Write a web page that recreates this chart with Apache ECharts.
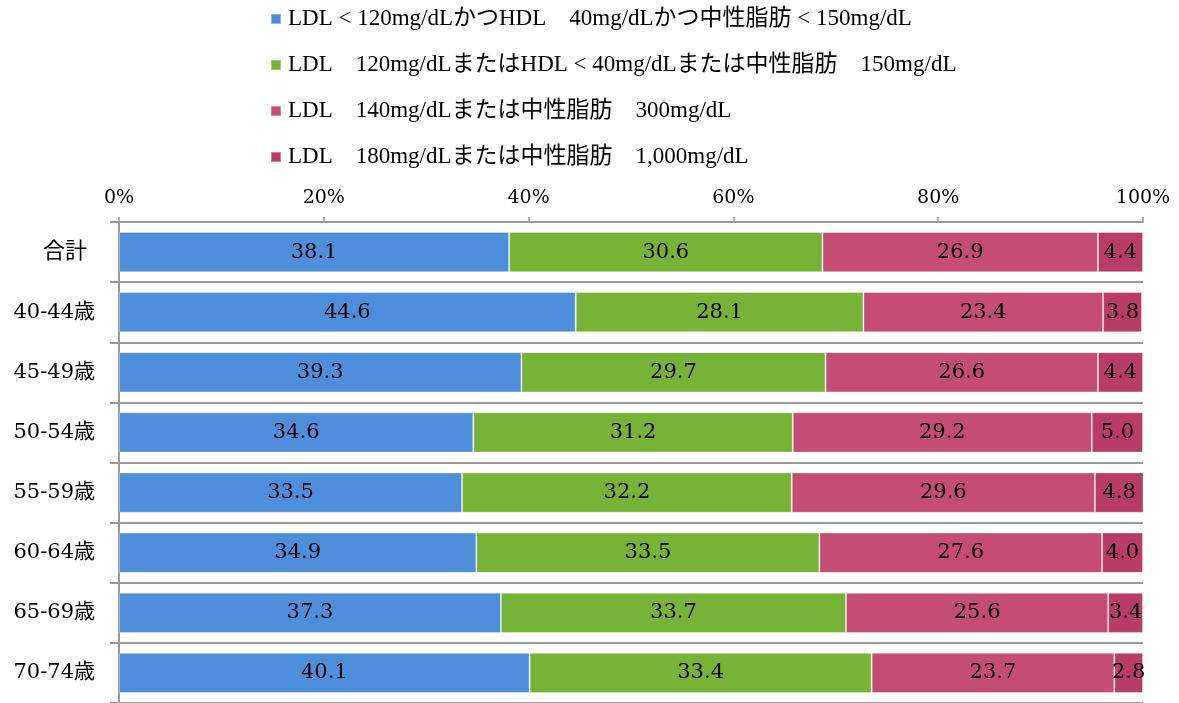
<!DOCTYPE html>
<html>
<head>
<meta charset="utf-8">
<script src="https://cdn.jsdelivr.net/npm/echarts@6/dist/echarts.min.js"></script>
<style>
  html, body { margin: 0; padding: 0; background: #fff; }
  #chart { width: 1179px; height: 703px; }
</style>
</head>
<body>
<div id="chart"></div>
<script>
// Age groups, top to bottom
const categories = ['合計', '40-44歳', '45-49歳', '50-54歳', '55-59歳', '60-64歳', '65-69歳', '70-74歳'];

// Share of each lipid group (%)
const seriesNames = [
  'LDL < 120mg/dLかつHDL　40mg/dLかつ中性脂肪 < 150mg/dL',
  'LDL　120mg/dLまたはHDL < 40mg/dLまたは中性脂肪　150mg/dL',
  'LDL　140mg/dLまたは中性脂肪　300mg/dL',
  'LDL　180mg/dLまたは中性脂肪　1,000mg/dL'
];
const normal   = [38.1, 44.6, 39.3, 34.6, 33.5, 34.9, 37.3, 40.1];
const mild     = [30.6, 28.1, 29.7, 31.2, 32.2, 33.5, 33.7, 33.4];
const moderate = [26.9, 23.4, 26.6, 29.2, 29.6, 27.6, 25.6, 23.7];
const severe   = [4.4, 3.8, 4.4, 5.0, 4.8, 4.0, 3.4, 2.8];

const xTicks = [0, 20, 40, 60, 80, 100];

const colors = ['#4f8edb', '#77b337', '#c54c75', '#b93c68'];
const serif = '"DejaVu Serif", "Noto Sans CJK JP", serif';
const legendFont = '"Liberation Serif", "Noto Sans CJK JP", serif';

const values = [normal, mild, moderate, severe];

const chart = echarts.init(document.getElementById('chart'));
chart.setOption({
  animation: false,
  color: colors,
  legend: {
    orient: 'vertical',
    left: 270,
    top: 7,
    padding: 0,
    itemWidth: 10,
    itemHeight: 10,
    itemGap: 22,
    icon: 'rect',
    data: seriesNames,
    textStyle: { fontFamily: legendFont, fontSize: 23, lineHeight: 24, color: '#000', padding: [0, 0, 0, 2] }
  },
  grid: { left: 119, right: 36, top: 222, height: 483, containLabel: false },
  xAxis: {
    type: 'value',
    position: 'top',
    min: 0,
    max: 100,
    interval: 20,
    axisLine: { show: true, lineStyle: { color: '#999', width: 2 } },
    axisTick: { show: true, inside: false, length: 5, lineStyle: { color: '#999', width: 1.5 } },
    splitLine: { show: false },
    axisLabel: {
      margin: 14,
      fontFamily: serif,
      fontSize: 19,
      color: '#000',
      formatter: v => xTicks.includes(v) ? v + '%' : ''
    }
  },
  yAxis: {
    type: 'category',
    inverse: true,
    data: categories,
    axisLine: { show: true, lineStyle: { color: '#999', width: 2 } },
    axisTick: { show: true, length: 9, lineStyle: { color: '#999', width: 2 } },
    splitLine: { show: true, lineStyle: { color: '#999', width: 2 } },
    axisLabel: {
      margin: 24,
      fontFamily: serif,
      fontSize: 21,
      color: '#000',
      formatter: (v, i) => i === 0 ? '{total|' + v + '}' : v,
      rich: { total: { fontFamily: serif, fontSize: 22, color: '#000', padding: [0, 8, 0, 0] } }
    }
  },
  series: seriesNames.map((name, i) => ({
    name: name,
    type: 'bar',
    stack: 'total',
    barCategoryGap: '33%',
    data: values[i],
    itemStyle: { borderColor: 'rgba(255,255,255,0.35)', borderWidth: 1 },
    label: {
      show: true,
      position: 'inside',
      fontFamily: serif,
      fontSize: 21,
      color: '#000',
      formatter: p => p.value.toFixed(1)
    }
  }))
});
</script>
</body>
</html>
